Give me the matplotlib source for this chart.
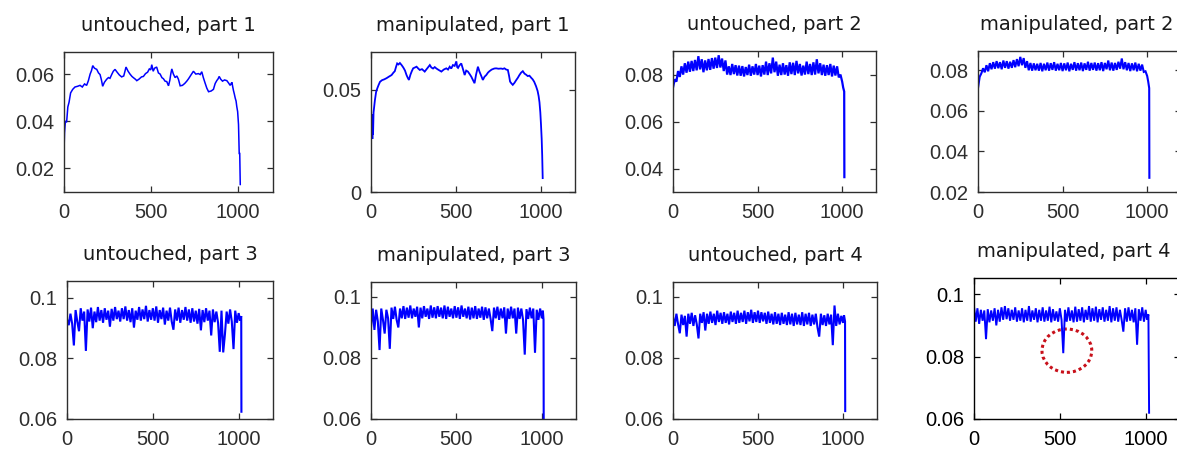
import numpy as np
import matplotlib
matplotlib.use("Agg")
import matplotlib.pyplot as plt
from matplotlib.patches import Ellipse

plt.rcParams['font.family'] = ['Liberation Sans', 'DejaVu Sans']

titles = ["untouched, part 1", "manipulated, part 1", "untouched, part 2", "manipulated, part 2",
          "untouched, part 3", "manipulated, part 3", "untouched, part 4", "manipulated, part 4"]

xticks = [0, 500, 1000]
xticklabels = ["0", "500", "1000"]

# ---- part 1 (smooth curves) ----
u1_x = [0, 3, 8, 15, 22, 29, 38, 50, 63, 78, 92, 105, 118, 130, 140, 150, 158, 165, 175, 188,
        198, 207, 215, 222, 232, 245, 255, 264, 275, 283, 293, 305, 318, 331, 343, 350, 356, 368,
        379, 390, 398, 410, 418, 430, 445, 456, 468, 480, 490, 498, 504, 512, 520, 532, 542, 552,
        562, 571, 580, 590, 600, 608, 613, 619, 628, 638, 648, 657, 667, 680, 693, 705, 715, 728,
        743, 757, 772, 782, 791, 800, 810, 820, 830, 845, 858, 868, 877, 885, 891, 900, 910, 922,
        935, 945, 954, 960, 964, 969, 973, 978, 983, 988, 992, 997, 1002, 1006, 1009, 1012]
u1_y = [0.027, 0.035, 0.040, 0.0395, 0.046, 0.048, 0.052, 0.0535, 0.0545, 0.0548, 0.0552, 0.0545,
        0.0558, 0.0552, 0.0572, 0.0600, 0.0615, 0.0636, 0.0625, 0.0620, 0.0605, 0.0598, 0.0575,
        0.0548, 0.0565, 0.0578, 0.0585, 0.0582, 0.0600, 0.0612, 0.0620, 0.0608, 0.0596, 0.0588,
        0.0592, 0.0612, 0.0630, 0.0612, 0.0600, 0.0590, 0.0585, 0.0578, 0.0572, 0.0578, 0.0588,
        0.0590, 0.0602, 0.0608, 0.0622, 0.0618, 0.0640, 0.0612, 0.0625, 0.0630, 0.0605, 0.0600,
        0.0585, 0.0580, 0.0570, 0.0568, 0.0550, 0.0575, 0.0600, 0.0622, 0.0600, 0.0585, 0.0592,
        0.0578, 0.0550, 0.0552, 0.0560, 0.0570, 0.0580, 0.0595, 0.0612, 0.0600, 0.0602, 0.0598,
        0.0610, 0.0585, 0.0562, 0.0540, 0.0525, 0.0528, 0.0535, 0.0560, 0.0572, 0.0580, 0.0590,
        0.0578, 0.0570, 0.0575, 0.0572, 0.0562, 0.0552, 0.0560, 0.0565, 0.0545, 0.0530, 0.0515,
        0.0498, 0.0485, 0.0462, 0.0440, 0.0385, 0.0262, 0.0262, 0.0130]

m1_x = [0, 2, 4, 6, 8, 10, 12, 15, 23, 30, 37, 45, 53, 65, 78, 92, 105, 121, 132, 140, 148, 154,
        162, 170, 180, 190, 200, 209, 216, 223, 232, 240, 248, 258, 268, 278, 287, 300, 316, 330,
        346, 355, 365, 375, 385, 398, 414, 428, 443, 453, 463, 472, 482, 492, 502, 507, 512, 520,
        531, 540, 551, 560, 570, 580, 590, 600, 609, 618, 629, 638, 648, 658, 668, 678, 688, 697,
        710, 725, 736, 750, 765, 775, 785, 795, 805, 812, 818, 826, 834, 844, 854, 864, 873, 883,
        893, 903, 912, 922, 932, 942, 951, 960, 971, 980, 986, 991, 996, 1000, 1004, 1007, 1010]
m1_y = [0.030, 0.036, 0.027, 0.038, 0.026, 0.037, 0.028, 0.039, 0.045, 0.049, 0.0508, 0.0525,
        0.0540, 0.0548, 0.0552, 0.0558, 0.0565, 0.0573, 0.0585, 0.0592, 0.0615, 0.0630, 0.0625,
        0.0632, 0.0622, 0.0610, 0.0595, 0.0573, 0.0560, 0.0549, 0.0575, 0.0592, 0.0606, 0.0610,
        0.0614, 0.0605, 0.0598, 0.0602, 0.0590, 0.0605, 0.0622, 0.0610, 0.0605, 0.0612, 0.0605,
        0.0598, 0.0590, 0.0600, 0.0606, 0.0600, 0.0614, 0.0605, 0.0622, 0.0618, 0.0640, 0.0612,
        0.0608, 0.0620, 0.0630, 0.0605, 0.0573, 0.0595, 0.0590, 0.0578, 0.0565, 0.0548, 0.0533,
        0.0575, 0.0614, 0.0590, 0.0570, 0.0549, 0.0565, 0.0573, 0.0585, 0.0592, 0.0600, 0.0605,
        0.0606, 0.0604, 0.0605, 0.0603, 0.0606, 0.0600, 0.0598, 0.0570, 0.0541, 0.0532, 0.0525,
        0.0535, 0.0548, 0.0560, 0.0573, 0.0585, 0.0592, 0.0580, 0.0575, 0.0568, 0.0570, 0.0560,
        0.0552, 0.0540, 0.0518, 0.0495, 0.0470, 0.0440, 0.0390, 0.0330, 0.0260, 0.0180, 0.0068]

# ---- noisy parts: samples every 10 from 0 to 1000, then the end drop ----
step = 10
u2_y = [0.0745, 0.0780, 0.0770, 0.0815, 0.0790, 0.0835, 0.0800, 0.0848, 0.0808, 0.0855,
        0.0812, 0.0858, 0.0815, 0.0862, 0.0818, 0.0878, 0.0822, 0.0865, 0.0810, 0.0860,
        0.0818, 0.0866, 0.0820, 0.0870, 0.0825, 0.0872, 0.0828, 0.0882, 0.0830, 0.0868,
        0.0815, 0.0860, 0.0800, 0.0835, 0.0798, 0.0845, 0.0802, 0.0840, 0.0796, 0.0838,
        0.0795, 0.0836, 0.0792, 0.0832, 0.0798, 0.0842, 0.0795, 0.0835, 0.0800, 0.0845,
        0.0798, 0.0838, 0.0792, 0.0840, 0.0800, 0.0855, 0.0798, 0.0848, 0.0805, 0.0872,
        0.0810, 0.0855, 0.0795, 0.0842, 0.0798, 0.0848, 0.0800, 0.0840, 0.0795, 0.0852,
        0.0802, 0.0850, 0.0798, 0.0858, 0.0805, 0.0845, 0.0796, 0.0838, 0.0800, 0.0855,
        0.0802, 0.0845, 0.0798, 0.0852, 0.0800, 0.0865, 0.0805, 0.0848, 0.0798, 0.0842,
        0.0795, 0.0840, 0.0798, 0.0845, 0.0792, 0.0838, 0.0796, 0.0835, 0.0788, 0.0800,
        0.0770]
u2_tail_x = [1006, 1012, 1013]
u2_tail_y = [0.0745, 0.0728, 0.0365]

m2_y = [0.0712, 0.0768, 0.0785, 0.0810, 0.0790, 0.0825, 0.0795, 0.0835, 0.0805, 0.0840,
        0.0808, 0.0845, 0.0810, 0.0840, 0.0805, 0.0848, 0.0812, 0.0845, 0.0808, 0.0842,
        0.0812, 0.0850, 0.0815, 0.0855, 0.0820, 0.0866, 0.0825, 0.0860, 0.0812, 0.0845,
        0.0800, 0.0836, 0.0798, 0.0834, 0.0800, 0.0832, 0.0798, 0.0836, 0.0795, 0.0832,
        0.0800, 0.0838, 0.0798, 0.0835, 0.0802, 0.0840, 0.0798, 0.0832, 0.0800, 0.0836,
        0.0796, 0.0834, 0.0800, 0.0838, 0.0795, 0.0832, 0.0802, 0.0840, 0.0798, 0.0835,
        0.0800, 0.0838, 0.0796, 0.0834, 0.0802, 0.0842, 0.0798, 0.0836, 0.0802, 0.0838,
        0.0798, 0.0835, 0.0800, 0.0840, 0.0796, 0.0836, 0.0805, 0.0848, 0.0800, 0.0838,
        0.0798, 0.0836, 0.0802, 0.0842, 0.0808, 0.0858, 0.0805, 0.0840, 0.0800, 0.0836,
        0.0796, 0.0834, 0.0800, 0.0838, 0.0795, 0.0832, 0.0798, 0.0828, 0.0792, 0.0795,
        0.0772]
m2_tail_x = [1006, 1012, 1013]
m2_tail_y = [0.0745, 0.0712, 0.0270]

u3_y = [0.0930, 0.0910, 0.0948, 0.0915, 0.0843, 0.0960, 0.0922, 0.0890, 0.0966, 0.0925,
        0.0955, 0.0825, 0.0962, 0.0922, 0.0968, 0.0900, 0.0955, 0.0920, 0.0970, 0.0925,
        0.0960, 0.0918, 0.0966, 0.0928, 0.0958, 0.0905, 0.0964, 0.0925, 0.0970, 0.0930,
        0.0958, 0.0922, 0.0966, 0.0930, 0.0972, 0.0925, 0.0960, 0.0920, 0.0966, 0.0902,
        0.0958, 0.0928, 0.0970, 0.0925, 0.0962, 0.0930, 0.0974, 0.0922, 0.0960, 0.0928,
        0.0966, 0.0925, 0.0972, 0.0918, 0.0960, 0.0930, 0.0968, 0.0912, 0.0958, 0.0925,
        0.0968, 0.0922, 0.0895, 0.0962, 0.0925, 0.0968, 0.0918, 0.0960, 0.0928, 0.0970,
        0.0925, 0.0962, 0.0918, 0.0966, 0.0922, 0.0958, 0.0915, 0.0964, 0.0893, 0.0960,
        0.0920, 0.0966, 0.0925, 0.0958, 0.0876, 0.0962, 0.0920, 0.0955, 0.0918, 0.0822,
        0.0958, 0.0820, 0.0880, 0.0955, 0.0915, 0.0962, 0.0922, 0.0831, 0.0958, 0.0918,
        0.0950]
u3_tail_x = [1008, 1015, 1016]
u3_tail_y = [0.0925, 0.0940, 0.0624]

m3_y = [0.0900, 0.0962, 0.0892, 0.0958, 0.0920, 0.0826, 0.0962, 0.0925, 0.0880, 0.0958,
        0.0930, 0.0830, 0.0965, 0.0928, 0.0968, 0.0925, 0.0900, 0.0962, 0.0930, 0.0970,
        0.0928, 0.0965, 0.0932, 0.0972, 0.0930, 0.0962, 0.0935, 0.0968, 0.0900, 0.0965,
        0.0930, 0.0970, 0.0935, 0.0962, 0.0928, 0.0972, 0.0932, 0.0966, 0.0930, 0.0970,
        0.0935, 0.0965, 0.0930, 0.0972, 0.0928, 0.0968, 0.0935, 0.0962, 0.0930, 0.0970,
        0.0932, 0.0966, 0.0928, 0.0972, 0.0935, 0.0962, 0.0930, 0.0968, 0.0926, 0.0965,
        0.0930, 0.0970, 0.0928, 0.0962, 0.0932, 0.0968, 0.0925, 0.0966, 0.0930, 0.0962,
        0.0928, 0.0888, 0.0965, 0.0930, 0.0968, 0.0925, 0.0962, 0.0930, 0.0966, 0.0880,
        0.0962, 0.0928, 0.0968, 0.0930, 0.0962, 0.0880, 0.0965, 0.0928, 0.0962, 0.0925,
        0.0811, 0.0960, 0.0928, 0.0965, 0.0930, 0.0962, 0.0817, 0.0958, 0.0925, 0.0962,
        0.0930]
m3_tail_x = [1006, 1010, 1011]
m3_tail_y = [0.0955, 0.0925, 0.0560]

u4_y = [0.0935, 0.0905, 0.0945, 0.0910, 0.0881, 0.0942, 0.0908, 0.0938, 0.0870, 0.0945,
        0.0912, 0.0948, 0.0905, 0.0940, 0.0910, 0.0864, 0.0945, 0.0915, 0.0950, 0.0890,
        0.0945, 0.0912, 0.0952, 0.0915, 0.0945, 0.0908, 0.0955, 0.0918, 0.0948, 0.0912,
        0.0950, 0.0915, 0.0945, 0.0910, 0.0952, 0.0918, 0.0948, 0.0912, 0.0955, 0.0915,
        0.0948, 0.0918, 0.0955, 0.0912, 0.0950, 0.0920, 0.0958, 0.0915, 0.0950, 0.0918,
        0.0955, 0.0915, 0.0950, 0.0920, 0.0948, 0.0912, 0.0952, 0.0915, 0.0945, 0.0910,
        0.0950, 0.0912, 0.0945, 0.0908, 0.0948, 0.0912, 0.0942, 0.0908, 0.0950, 0.0910,
        0.0945, 0.0905, 0.0948, 0.0910, 0.0942, 0.0908, 0.0950, 0.0905, 0.0945, 0.0910,
        0.0948, 0.0905, 0.0942, 0.0910, 0.0945, 0.0900, 0.0870, 0.0945, 0.0908, 0.0940,
        0.0905, 0.0945, 0.0910, 0.0942, 0.0842, 0.0972, 0.0905, 0.0945, 0.0910, 0.0938,
        0.0915]
u4_tail_x = [1006, 1012, 1013]
u4_tail_y = [0.0940, 0.0920, 0.0626]

m4_y = [0.0960, 0.0912, 0.0955, 0.0905, 0.0950, 0.0915, 0.0948, 0.0856, 0.0952, 0.0910,
        0.0948, 0.0915, 0.0955, 0.0900, 0.0950, 0.0912, 0.0958, 0.0918, 0.0962, 0.0920,
        0.0955, 0.0915, 0.0950, 0.0918, 0.0958, 0.0912, 0.0948, 0.0915, 0.0955, 0.0910,
        0.0950, 0.0915, 0.0962, 0.0912, 0.0948, 0.0918, 0.0955, 0.0910, 0.0950, 0.0915,
        0.0958, 0.0912, 0.0948, 0.0915, 0.0960, 0.0910, 0.0952, 0.0915, 0.0945, 0.0912,
        0.0955, 0.0918, 0.0811, 0.0950, 0.0912, 0.0958, 0.0915, 0.0948, 0.0910, 0.0960,
        0.0912, 0.0952, 0.0915, 0.0958, 0.0910, 0.0950, 0.0918, 0.0962, 0.0912, 0.0955,
        0.0915, 0.0960, 0.0910, 0.0952, 0.0918, 0.0958, 0.0912, 0.0950, 0.0915, 0.0962,
        0.0910, 0.0955, 0.0915, 0.0958, 0.0912, 0.0950, 0.0918, 0.0880, 0.0955, 0.0912,
        0.0958, 0.0915, 0.0950, 0.0910, 0.0955, 0.0838, 0.0952, 0.0915, 0.0958, 0.0912,
        0.0950]
m4_tail_x = [1008, 1016, 1020]
m4_tail_y = [0.0918, 0.0935, 0.0620]

# y-axis settings per panel
ylims = [(0.0098, 0.0694), (0.0, 0.0686), (0.0302, 0.0900), (0.0200, 0.0895),
         (0.0600, 0.1056), (0.0600, 0.1049), (0.0600, 0.1049), (0.0600, 0.1052)]
yticks = [[0.02, 0.04, 0.06], [0.0, 0.05], [0.04, 0.06, 0.08], [0.02, 0.04, 0.06, 0.08],
          [0.06, 0.08, 0.1], [0.06, 0.08, 0.1], [0.06, 0.08, 0.1], [0.06, 0.08, 0.1]]
yticklabels = [["0.02", "0.04", "0.06"], ["0", "0.05"], ["0.04", "0.06", "0.08"],
               ["0.02", "0.04", "0.06", "0.08"], ["0.06", "0.08", "0.1"], ["0.06", "0.08", "0.1"],
               ["0.06", "0.08", "0.1"], ["0.06", "0.08", "0.1"]]

# circled anomaly in manipulated part 4
circle_center = (541, 0.0819)
circle_w, circle_h = 290, 0.0139


def noisy(y, tx, ty):
    x = list(np.arange(len(y)) * step) + tx
    return x, list(y) + ty


series = [
    (u1_x, u1_y),
    (m1_x, m1_y),
    noisy(u2_y, u2_tail_x, u2_tail_y),
    noisy(m2_y, m2_tail_x, m2_tail_y),
    noisy(u3_y, u3_tail_x, u3_tail_y),
    noisy(m3_y, m3_tail_x, m3_tail_y),
    noisy(u4_y, u4_tail_x, u4_tail_y),
    noisy(m4_y, m4_tail_x, m4_tail_y),
]
line_widths = [1.1, 1.3, 1.6, 1.5, 1.5, 1.5, 1.5, 1.4]

W, H = 1177, 453
fig = plt.figure(figsize=(W / 100, H / 100), dpi=100)
fig.patch.set_facecolor('white')

# axes boxes in pixels: left, right, top, bottom
boxes = [(64, 273, 52, 192), (371, 575, 52, 192), (673, 876, 51, 192), (978, 1181, 51, 192),
         (67, 273, 281, 419), (371, 576, 282, 419), (673, 877, 282, 419), (974, 1180, 278, 419)]

for i, ((l, r, t, b), (xs, ys)) in enumerate(zip(boxes, series)):
    ax = fig.add_axes([l / W, 1 - b / H, (r - l) / W, (b - t) / H])
    frame_col = 'black' if i == 7 else '#2e2e2e'
    ax.plot(xs, ys, color='#0000ff', lw=line_widths[i], solid_joinstyle='miter')
    ax.set_xlim(0, 1200)
    ax.set_ylim(*ylims[i])
    ax.set_xticks(xticks)
    ax.set_xticklabels(xticklabels)
    ax.set_yticks(yticks[i])
    ax.set_yticklabels(yticklabels[i])
    ax.tick_params(direction='in', top=True, right=True, length=4, width=0.9,
                   colors=frame_col, labelsize=14.5)
    ax.tick_params(axis='x', pad=8)
    ax.tick_params(axis='y', pad=7)
    for s in ax.spines.values():
        s.set_color(frame_col)
        s.set_linewidth(1.0)
    tx = 0.485 if i in (3, 7) else 0.5
    ax.set_title(titles[i], fontsize=14, family='DejaVu Sans', color='#1a1a1a', pad=15, x=tx)
    if i == 7:
        ax.add_patch(Ellipse(circle_center, circle_w, circle_h, fill=False,
                             edgecolor='#c8101a', linestyle=(0, (1, 1)), linewidth=2.2))

fig.savefig('out.png', dpi=100)
